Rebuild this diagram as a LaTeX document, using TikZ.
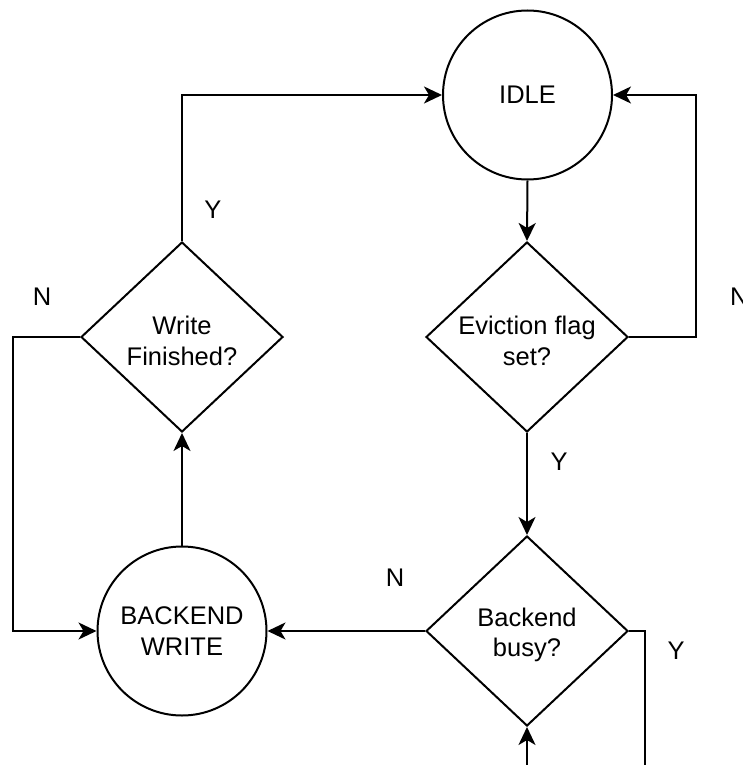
\documentclass[tikz,border=0pt]{standalone}
\usepackage{fontspec}
\setmainfont{Liberation Sans}
\usetikzlibrary{arrows.meta,shapes.geometric}
\begin{document}
\begin{tikzpicture}[x=1pt,y=-1pt,
  every node/.style={font=\fontsize{25.5}{30.5}\selectfont},
  state/.style={draw,line width=2pt,circle,minimum size=169pt,inner sep=0pt,align=center},
  decision/.style={draw,line width=2pt,diamond,minimum width=202pt,minimum height=190pt,inner sep=0pt},
  dlabel/.style={align=center,inner sep=0pt},
  edge/.style={line width=2pt,-{Stealth[length=18pt,width=17pt,inset=5pt]}},
  plain/.style={line width=2pt},
  lbl/.style={inner sep=0pt}]
\useasboundingbox (0,0) rectangle (742,765);
\node[state] (idle) at (527.5,95) {IDLE};
\node[state] (bw) at (182,631) {BACKEND\\WRITE};
\node[decision] (evict) at (527,337) {};
\node[dlabel] (evictt) at (527,341) {Eviction flag\\set?};
\node[decision] (wf) at (182,337) {};
\node[dlabel] (wft) at (182,341) {Write\\Finished?};
\node[decision] (busy) at (527,631) {};
\node[dlabel] (busyt) at (527,635) {Backend\\busy?};
\coordinate (bottomin) at (527,770);
\coordinate (bottomout) at (645,770);
% edges
\draw[edge] (idle.south) -- (evict.north);
\draw[edge] (evict.east) -- (696,337) -- (696,95) -- (idle.east);
\draw[edge] (evict.south) -- (busy.north);
\draw[edge] (busy.west) -- (bw.east);
\draw[plain] (busy.east) -- (645,631) -- (bottomout);
\draw[edge] (bottomin) -- (busy.south);
\draw[edge] (bw.north) -- (wf.south);
\draw[edge] (wf.north) -- (182,95) -- (idle.west);
\draw[edge] (wf.west) -- (13,337) -- (13,631) -- (bw.west);
% labels
\node[lbl] (y1) at (213,210) {Y};
\node[lbl] (n1) at (42,297) {N};
\node[lbl,anchor=west] (n2) at (730,297) {N};
\node[lbl] (y2) at (559,462) {Y};
\node[lbl] (n3) at (395,578) {N};
\node[lbl] (y3) at (676,651) {Y};
\end{tikzpicture}
\end{document}
